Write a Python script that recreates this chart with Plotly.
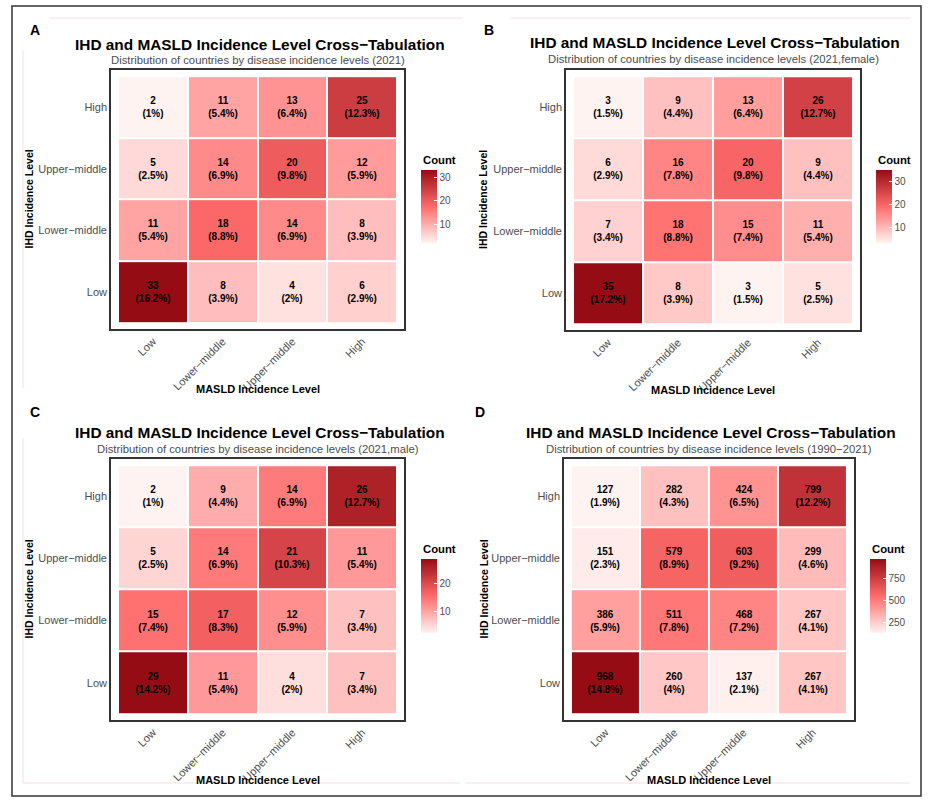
import plotly.graph_objects as go

W, H = 931, 803
FONT = "Liberation Sans, Arial, sans-serif"

# ---------------- data ----------------
levels = ["Low", "Lower−middle", "Upper−middle", "High"]   # MASLD (x) and IHD (y) levels
# rows = IHD level (Low -> High), columns = MASLD level (Low -> High)
counts_a = [[33, 8, 4, 6], [11, 18, 14, 8], [5, 14, 20, 12], [2, 11, 13, 25]]
counts_b = [[35, 8, 3, 5], [7, 18, 15, 11], [6, 16, 20, 9], [3, 9, 13, 26]]
counts_c = [[29, 11, 4, 7], [15, 17, 12, 7], [5, 14, 21, 11], [2, 9, 14, 26]]
counts_d = [[968, 260, 137, 267], [386, 511, 468, 267], [151, 579, 603, 299], [127, 282, 424, 799]]
panel_letters = ["A", "B", "C", "D"]
main_title = "IHD and MASLD Incidence Level Cross−Tabulation"
subtitles = [
    "Distribution of countries by disease incidence levels (2021)",
    "Distribution of countries by disease incidence levels (2021,female)",
    "Distribution of countries by disease incidence levels (2021,male)",
    "Distribution of countries by disease incidence levels (1990−2021)",
]
x_title = "MASLD Incidence Level"
y_title = "IHD Incidence Level"
legend_title = "Count"
colorbar_dticks = [10, 10, 10, 250]
all_counts = [counts_a, counts_b, counts_c, counts_d]

# ---------------- geometry (pixels) ----------------
geoms = [
    dict(box=(111, 404, 70, 329), cbx=421, cby=170, cbl=73, ty=44, sy=60, lx=35, ly=30, ytx=28, xty=389),
    dict(box=(566, 860, 70, 330), cbx=876, cby=170, cbl=73, ty=43, sy=59, lx=489, ly=30, ytx=483, xty=390),
    dict(box=(111, 404, 459, 720), cbx=421, cby=559, cbl=74, ty=432, sy=449, lx=35, ly=412, ytx=28, xty=780),
    dict(box=(564, 854, 459, 720), cbx=870, cby=559, cbl=74, ty=432, sy=449, lx=480, ly=412, ytx=483, xty=780),
]

def px(x):
    return x / W

def py(y):
    return 1 - y / H

colorscale = [[0.0, "#FFF3F1"], [0.5, "#FF6B6B"], [1.0, "#960C14"]]
TICK_GRAY = "#4D4D4D"

fig = go.Figure()
annotations = []
layout = dict(
    template="none",
    width=W, height=H, autosize=False,
    margin=dict(l=0, r=0, t=0, b=0),
    paper_bgcolor="white", plot_bgcolor="white",
    font=dict(family=FONT, color=TICK_GRAY),
    showlegend=False,
)

for i, (counts, g) in enumerate(zip(all_counts, geoms)):
    n = i + 1
    sfx = "" if n == 1 else str(n)
    total = sum(sum(r) for r in counts)
    labels = [[f"{c}<br>({round(c / total * 100, 1):g}%)" for c in row] for row in counts]
    fig.add_trace(go.Heatmap(
        x=levels, y=levels, z=counts, text=labels,
        texttemplate="<b>%{text}</b>",
        textfont=dict(size=10, color="black", family=FONT),
        xgap=2, ygap=2,
        coloraxis="coloraxis" + sfx,
        xaxis="x" + sfx, yaxis="y" + sfx,
        hoverinfo="skip",
    ))
    x0, x1, y0, y1 = g["box"]
    axstyle = dict(
        range=[-0.6, 3.6], showgrid=False, zeroline=False, ticks="",
        showline=True, mirror=True, linecolor="#333333", linewidth=1.6,
        tickfont=dict(size=11, color=TICK_GRAY, family=FONT),
        type="category", fixedrange=True,
    )
    layout["xaxis" + sfx] = dict(axstyle, domain=[px(x0), px(x1)], anchor="y" + sfx, tickangle=-45)
    layout["yaxis" + sfx] = dict(axstyle, domain=[py(y1), py(y0)], anchor="x" + sfx)
    layout["coloraxis" + sfx] = dict(
        colorscale=colorscale,
        colorbar=dict(
            x=px(g["cbx"]), xanchor="left", y=py(g["cby"]), yanchor="top",
            len=g["cbl"], lenmode="pixels", thickness=16, thicknessmode="pixels",
            xpad=0, ypad=0, outlinewidth=0, borderwidth=0,
            ticks="inside", ticklen=3, tickcolor="white", tickwidth=1,
            tick0=0, dtick=colorbar_dticks[i],
            tickfont=dict(size=10, color=TICK_GRAY, family=FONT),
        ),
    )
    cx = (x0 + x1) / 2
    cy = (y0 + y1) / 2
    annotations += [
        dict(text=f"<b>{panel_letters[i]}</b>", x=px(g["lx"]), y=py(g["ly"]), xanchor="center", yanchor="middle",
             font=dict(size=14, color="black", family=FONT)),
        dict(text=f"<b>{main_title}</b>", x=px(cx + 2), y=py(g["ty"]), xanchor="center", yanchor="middle",
             font=dict(size=15.4, color="black", family=FONT)),
        dict(text=subtitles[i], x=px(cx), y=py(g["sy"]), xanchor="center", yanchor="middle",
             font=dict(size=11.3, color=TICK_GRAY, family=FONT)),
        dict(text=f"<b>{x_title}</b>", x=px(cx), y=py(g["xty"]), xanchor="center", yanchor="middle",
             font=dict(size=11, color="black", family=FONT)),
        dict(text=f"<b>{y_title}</b>", x=px(g["ytx"]), y=py(cy), xanchor="center", yanchor="middle",
             textangle=-90, font=dict(size=10.5, color="black", family=FONT)),
        dict(text=f"<b>{legend_title}</b>", x=px(g["cbx"]), y=py(g["cby"] - 10), xanchor="left", yanchor="middle",
             font=dict(size=11.3, color="black", family=FONT)),
    ]

for a in annotations:
    a.update(xref="paper", yref="paper", showarrow=False)

pink = "#F7DDE1"
shapes = [
    dict(type="rect", xref="paper", yref="paper", x0=px(12), x1=px(921), y0=py(796), y1=py(6),
         line=dict(color="#333333", width=1.5)),
    dict(type="line", xref="paper", yref="paper", x0=px(50), x1=px(462), y0=py(18), y1=py(18),
         line=dict(color=pink, width=1)),
    dict(type="line", xref="paper", yref="paper", x0=px(23), x1=px(23), y0=py(50), y1=py(388),
         line=dict(color=pink, width=1)),
    dict(type="line", xref="paper", yref="paper", x0=px(511), x1=px(910), y0=py(18), y1=py(18),
         line=dict(color=pink, width=1)),
    dict(type="line", xref="paper", yref="paper", x0=px(23), x1=px(23), y0=py(438), y1=py(783),
         line=dict(color=pink, width=1)),
    dict(type="line", xref="paper", yref="paper", x0=px(23), x1=px(460), y0=py(783), y1=py(783),
         line=dict(color=pink, width=1)),
    dict(type="line", xref="paper", yref="paper", x0=px(465), x1=px(910), y0=py(783), y1=py(783),
         line=dict(color=pink, width=1)),
]
layout["annotations"] = annotations
layout["shapes"] = shapes
fig.update_layout(**layout)
fig.write_html("out.html", config={"displayModeBar": False},
               post_script="document.body.style.margin='0';")
